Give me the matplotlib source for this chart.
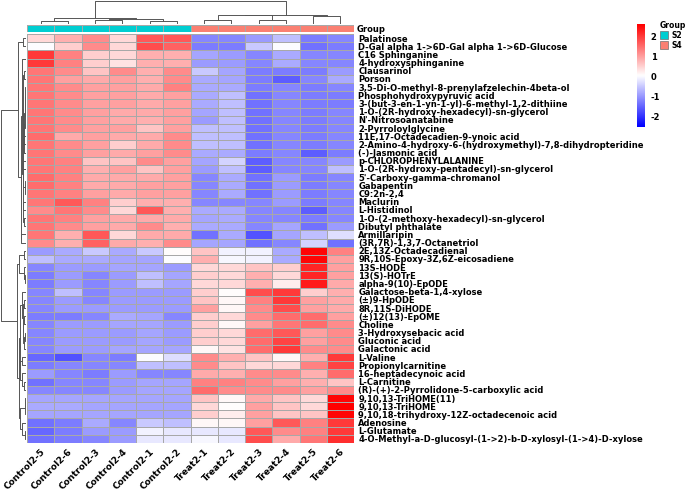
import numpy as np
import matplotlib
matplotlib.use("Agg")
import matplotlib.pyplot as plt
from matplotlib.colors import LinearSegmentedColormap, ListedColormap
from matplotlib.patches import Rectangle

samples = ["Control2-5", "Control2-6", "Control2-3", "Control2-4", "Control2-1", "Control2-2",
           "Treat2-1", "Treat2-2", "Treat2-3", "Treat2-4", "Treat2-5", "Treat2-6"]
groups = ["S2"] * 6 + ["S4"] * 6

metabolites = [
    "Palatinose",
    "D-Gal alpha 1->6D-Gal alpha 1->6D-Glucose",
    "C16 Sphinganine",
    "4-hydroxysphinganine",
    "Clausarinol",
    "Porson",
    "3,5-Di-O-methyl-8-prenylafzelechin-4beta-ol",
    "Phosphohydroxypyruvic acid",
    "3-(but-3-en-1-yn-1-yl)-6-methyl-1,2-dithiine",
    "1-O-(2R-hydroxy-hexadecyl)-sn-glycerol",
    "N'-Nitrosoanatabine",
    "2-Pyrroloylglycine",
    "11E,17-Octadecadien-9-ynoic acid",
    "2-Amino-4-hydroxy-6-(hydroxymethyl)-7,8-dihydropteridine",
    "(-)-Jasmonic acid",
    "p-CHLOROPHENYLALANINE",
    "1-O-(2R-hydroxy-pentadecyl)-sn-glycerol",
    "5'-Carboxy-gamma-chromanol",
    "Gabapentin",
    "C9:2n-2,4",
    "Maclurin",
    "L-Histidinol",
    "1-O-(2-methoxy-hexadecyl)-sn-glycerol",
    "Dibutyl phthalate",
    "Armillaripin",
    "(3R,7R)-1,3,7-Octanetriol",
    "2E,13Z-Octadecadienal",
    "9R,10S-Epoxy-3Z,6Z-eicosadiene",
    "13S-HODE",
    "13(S)-HOTrE",
    "alpha-9(10)-EpODE",
    "Galactose-beta-1,4-xylose",
    "(\u00b1)9-HpODE",
    "8R,11S-DiHODE",
    "(\u00b1)12(13)-EpOME",
    "Choline",
    "3-Hydroxysebacic acid",
    "Gluconic acid",
    "Galactonic acid",
    "L-Valine",
    "Propionylcarnitine",
    "16-heptadecynoic acid",
    "L-Carnitine",
    "(R)-(+)-2-Pyrrolidone-5-carboxylic acid",
    "9,10,13-TriHOME(11)",
    "9,10,13-TriHOME",
    "9,10,18-trihydroxy-12Z-octadecenoic acid",
    "Adenosine",
    "L-Glutamate",
    "4-O-Methyl-a-D-glucosyl-(1->2)-b-D-xylosyl-(1->4)-D-xylose",
]

# row-scaled abundance (z-score), rows in displayed order
zscores = [
    [0.4, 0.8, 1.2, 0.4, 1.7, 1.7, -1.2, -1.2, -1.0, -0.6, -1.3, -1.2],
    [0.0, 0.5, 1.2, 0.4, 1.8, 1.6, -1.3, -1.3, -0.5, 0.0, -1.4, -1.3],
    [2.0, 1.3, 0.5, 0.4, 0.8, 0.8, -0.9, -1.0, -1.2, -0.8, -1.2, -1.2],
    [2.0, 1.3, 0.5, 0.3, 0.8, 0.8, -1.0, -1.0, -1.2, -0.8, -1.2, -1.2],
    [1.4, 1.2, 0.6, 1.2, 0.8, 1.2, -0.5, -0.9, -1.3, -1.3, -1.3, -1.0],
    [1.4, 1.0, 0.9, 1.0, 0.8, 1.2, -0.8, -0.9, -1.3, -1.6, -1.2, -0.8],
    [1.4, 1.2, 1.0, 1.0, 0.9, 1.3, -0.8, -0.8, -1.3, -1.2, -1.3, -1.2],
    [1.4, 1.2, 1.0, 1.0, 0.9, 1.0, -0.8, -0.6, -1.4, -1.2, -1.3, -1.3],
    [1.4, 1.2, 1.0, 1.0, 0.9, 1.0, -0.8, -0.6, -1.4, -1.2, -1.3, -1.3],
    [1.4, 1.2, 1.0, 0.9, 0.9, 1.0, -0.9, -0.6, -1.4, -1.2, -1.3, -1.2],
    [1.4, 1.2, 1.0, 0.9, 0.8, 1.0, -1.0, -0.6, -1.4, -1.2, -1.3, -1.2],
    [1.4, 1.2, 1.0, 1.0, 0.6, 1.0, -0.6, -0.6, -1.4, -1.2, -1.3, -1.2],
    [1.5, 0.9, 1.0, 0.9, 0.9, 1.2, -0.6, -0.6, -1.4, -1.2, -1.3, -1.2],
    [1.4, 1.2, 1.0, 0.5, 0.9, 1.2, -0.6, -0.6, -1.4, -1.2, -1.3, -1.2],
    [1.4, 1.2, 1.0, 0.9, 1.0, 1.2, -0.8, -0.8, -1.3, -1.2, -1.6, -1.3],
    [1.4, 1.3, 0.6, 0.6, 1.2, 1.0, -0.9, -0.4, -1.6, -1.2, -1.2, -1.0],
    [1.4, 1.3, 0.8, 1.0, 0.6, 1.0, -1.0, -0.6, -1.6, -1.2, -1.2, -0.6],
    [1.5, 1.3, 0.9, 0.9, 0.9, 1.0, -1.2, -0.8, -1.4, -1.0, -1.3, -1.2],
    [1.5, 1.3, 0.9, 0.9, 1.0, 1.0, -1.2, -0.8, -1.4, -1.0, -1.3, -1.2],
    [1.4, 1.3, 1.0, 0.9, 1.0, 1.0, -1.2, -0.8, -1.4, -1.0, -1.3, -1.2],
    [1.4, 1.7, 1.3, 0.5, 0.8, 0.8, -1.2, -1.2, -1.2, -1.0, -1.3, -1.2],
    [1.2, 1.4, 1.2, 0.4, 1.7, 0.8, -0.8, -0.8, -1.2, -1.2, -1.6, -1.2],
    [1.4, 1.3, 1.0, 0.9, 0.9, 0.9, -0.9, -0.8, -1.2, -1.2, -1.3, -1.2],
    [1.4, 1.2, 1.0, 0.9, 1.2, 0.8, -0.8, -0.8, -1.2, -0.9, -1.4, -1.0],
    [1.4, 0.8, 1.7, 0.4, 0.9, 0.9, -1.4, -0.8, -1.7, -0.9, -0.6, -0.3],
    [1.2, 0.8, 1.6, 0.9, 0.8, 1.2, -0.9, -0.9, -1.4, -1.2, -0.4, -1.4],
    [-1.0, -0.8, -0.5, -0.8, -0.5, 0.05, 0.6, -0.1, -0.1, -0.8, 2.5, 1.3],
    [-0.6, -0.8, -0.8, -0.9, -0.9, 0.0, 0.8, -0.05, -0.1, -0.8, 2.5, 1.0],
    [-1.2, -1.0, -1.0, -0.9, -0.9, -1.0, 0.4, 0.4, 0.6, 0.5, 2.2, 1.0],
    [-1.3, -1.0, -1.2, -1.0, -0.6, -0.9, 0.5, 0.4, 0.8, 0.4, 2.2, 1.0],
    [-1.3, -1.0, -1.2, -1.0, -0.6, -0.9, 0.4, 0.4, 0.8, 0.2, 2.3, 0.9],
    [-1.2, -0.6, -1.2, -1.0, -1.0, -1.0, 0.5, 0.05, 1.8, 2.0, 0.5, 0.8],
    [-1.2, -1.0, -1.2, -1.0, -1.0, -1.0, 0.6, 0.1, 1.3, 2.0, 1.0, 0.9],
    [-1.2, -1.0, -1.0, -1.0, -1.0, -1.0, 1.0, 0.1, 1.2, 1.8, 1.0, 0.9],
    [-1.3, -1.3, -1.2, -0.8, -0.9, -1.2, 0.5, 0.4, 1.2, 1.5, 1.5, 1.0],
    [-1.2, -1.0, -1.0, -0.9, -0.9, -1.0, 0.5, 0.1, 1.0, 1.4, 1.5, 1.2],
    [-1.2, -1.0, -1.0, -1.0, -0.9, -1.0, 0.5, 0.4, 1.5, 1.7, 1.0, 1.2],
    [-1.2, -1.0, -1.0, -1.0, -0.9, -1.0, 0.5, 0.4, 1.5, 1.9, 1.0, 1.2],
    [-1.2, -1.0, -1.0, -0.9, -0.9, -0.9, 0.1, 0.3, 1.5, 2.0, 1.2, 1.2],
    [-1.5, -1.7, -1.2, -1.3, 0.0, -0.3, 1.2, 0.8, 0.6, 0.1, 0.8, 2.0],
    [-1.3, -1.2, -1.2, -1.2, -0.6, -0.6, 1.2, 0.6, 0.4, 0.4, 1.3, 1.9],
    [-1.0, -1.2, -1.3, -1.0, -1.2, -1.2, 0.9, 0.8, 1.2, 1.2, 0.8, 1.5],
    [-1.4, -1.2, -1.2, -1.0, -0.9, -0.9, 1.3, 1.3, 1.2, 1.0, 0.8, 0.6],
    [-1.2, -1.2, -1.2, -1.0, -0.9, -0.9, 1.5, 1.2, 1.2, 1.2, 1.0, 1.2],
    [-0.9, -0.9, -0.9, -0.9, -0.9, -0.9, 0.6, 0.1, 0.9, 0.6, 0.4, 2.5],
    [-0.8, -0.8, -0.9, -0.9, -0.9, -0.9, 0.4, 0.05, 1.0, 0.6, 0.4, 2.6],
    [-0.9, -0.9, -0.9, -0.9, -0.9, -0.9, 0.5, 0.2, 1.0, 0.6, 0.6, 2.5],
    [-1.4, -1.3, -0.8, -1.2, -0.5, -0.6, 0.1, 0.1, 1.0, 1.7, 1.3, 2.0],
    [-1.5, -1.3, -1.0, -1.0, -0.1, -0.2, -0.2, -0.2, 1.7, 1.2, 1.3, 2.0],
    [-1.4, -1.3, -1.2, -1.0, -0.2, -0.2, -0.05, -0.2, 1.8, 0.9, 1.4, 2.1],
]

group_colors = {"S2": "#00CED1", "S4": "#FA8072"}


def ordered_tree(X):
    # agglomerative clustering (average linkage) that only merges neighbours,
    # so the tree fits the displayed order
    X = np.asarray(X)
    clusters = [([i], i + 0.5, 0.0) for i in range(len(X))]
    segs = []
    while len(clusters) > 1:
        best, bi = None, 0
        for i in range(len(clusters) - 1):
            a, b = clusters[i][0], clusters[i + 1][0]
            d = np.mean([np.linalg.norm(X[p] - X[q]) for p in a for q in b])
            if best is None or d < best:
                best, bi = d, i
        (ma, xa, ha), (mb, xb, hb) = clusters[bi], clusters[bi + 1]
        h = max(best, ha, hb)
        segs.append(([xa, xa, xb, xb], [ha, h, h, hb]))
        clusters[bi:bi + 2] = [(ma + mb, (xa + xb) / 2, h)]
    return segs, clusters[0][2]


data = np.array(zscores)
nr, nc = data.shape

W, H = 685, 491
fig = plt.figure(figsize=(W / 100, H / 100), dpi=100)


def box(x0, y0, x1, y1):
    return [x0 / W, 1 - y1 / H, (x1 - x0) / W, (y1 - y0) / H]


cmap = LinearSegmentedColormap.from_list("bwr_p", ["#0000FF", "#FFFFFF", "#FF0000"], N=100)
vmin, vmax = -2.55, 2.6

# heatmap
ax = fig.add_axes(box(27, 34, 354, 443))
ax.pcolormesh(np.arange(nc + 1), np.arange(nr + 1), data, cmap=cmap, vmin=vmin, vmax=vmax,
              edgecolors="#A8A8A8", linewidth=0.5)
ax.set_xlim(0, nc)
ax.set_ylim(nr, 0)
ax.yaxis.tick_right()
ax.set_yticks(np.arange(nr) + 0.5)
ax.set_yticklabels(metabolites, fontsize=6, fontweight="bold")
ax.set_xticks(np.arange(nc) + 0.5)
ax.set_xticklabels(samples, fontsize=6.5, fontweight="bold", rotation=45,
                   ha="right", va="top", rotation_mode="anchor")
ax.tick_params(length=0, pad=3)
for s in ax.spines.values():
    s.set_visible(False)

# group annotation bar
ax_g = fig.add_axes(box(27, 25, 354, 32))
gvals = np.array([[0 if g == "S2" else 1 for g in groups]])
ax_g.pcolormesh(np.arange(nc + 1), [0, 1], gvals,
                cmap=ListedColormap([group_colors["S2"], group_colors["S4"]]),
                vmin=0, vmax=1, edgecolors="#A8A8A8", linewidth=0.5)
ax_g.set_xlim(0, nc)
ax_g.set_xticks([])
ax_g.yaxis.tick_right()
ax_g.set_yticks([0.5])
ax_g.set_yticklabels(["Group"], fontsize=6, fontweight="bold")
ax_g.tick_params(length=0, pad=2)
for s in ax_g.spines.values():
    s.set_visible(False)

# column dendrogram
ax_cd = fig.add_axes(box(27, 1, 354, 24))
segs, top = ordered_tree(data.T)
for xs, ys in segs:
    ax_cd.plot(xs, ys, color="#555555", lw=0.7)
ax_cd.set_xlim(0, nc)
ax_cd.set_ylim(0, top * 1.02)
ax_cd.axis("off")

# row dendrogram
ax_rd = fig.add_axes(box(1, 34, 26, 443))
segs, top = ordered_tree(data)
for xs, ys in segs:
    ax_rd.plot(ys, xs, color="#555555", lw=0.7)
ax_rd.set_ylim(nr, 0)
ax_rd.set_xlim(top * 1.02, 0)
ax_rd.axis("off")

# colour bar
ax_cb = fig.add_axes(box(637, 24, 645, 127))
grad = np.linspace(vmin, vmax, 200).reshape(-1, 1)
ax_cb.imshow(grad, aspect="auto", cmap=cmap, vmin=vmin, vmax=vmax, origin="lower",
             extent=[0, 1, vmin, vmax])
ax_cb.set_xticks([])
ax_cb.yaxis.tick_right()
ax_cb.set_yticks([-2, -1, 0, 1, 2])
ax_cb.set_yticklabels(["-2", "-1", "0", "1", "2"], fontsize=6, fontweight="bold")
ax_cb.tick_params(length=0, pad=4)
for s in ax_cb.spines.values():
    s.set_visible(False)

# group legend
fig.text(660 / W, 1 - 26 / H, "Group", fontsize=5.5, fontweight="bold", va="center")
for i, g in enumerate(["S2", "S4"]):
    y0 = 31 + i * 10
    fig.add_artist(Rectangle((660 / W, 1 - (y0 + 8) / H), 8 / W, 8 / H,
                             facecolor=group_colors[g], edgecolor="#707070", lw=0.5,
                             transform=fig.transFigure))
    fig.text(672 / W, 1 - (y0 + 4) / H, g, fontsize=5.5, fontweight="bold", va="center")

fig.savefig("out.png", dpi=100)
